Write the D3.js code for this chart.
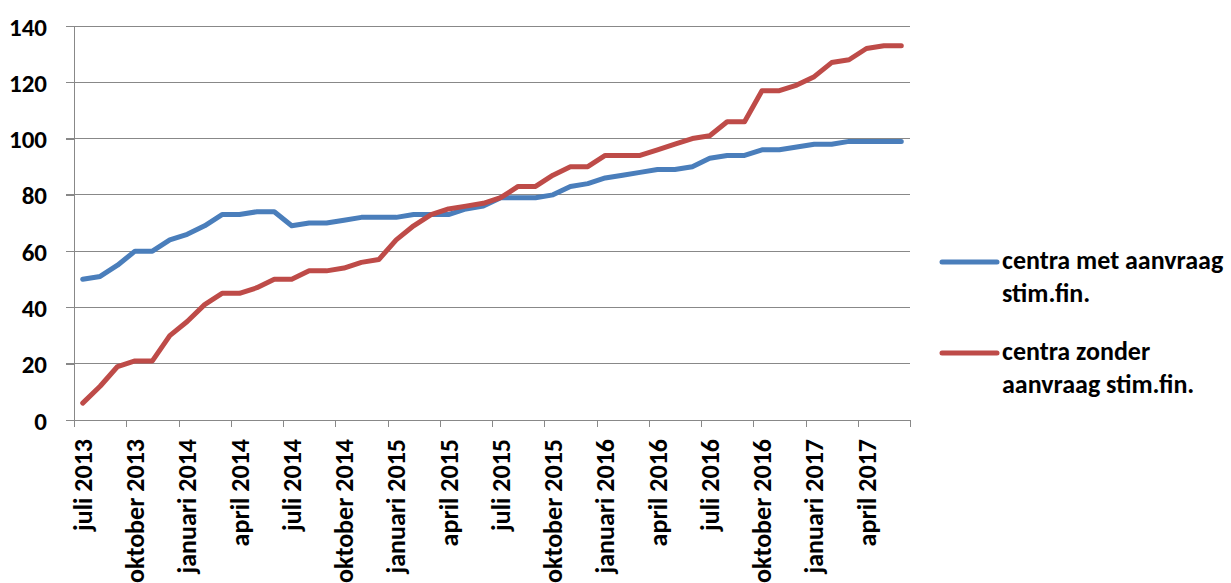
<!DOCTYPE html>
<html>
<head>
<meta charset="utf-8">
<script src="https://cdn.jsdelivr.net/npm/d3@7"></script>
<style>
    body { margin: 0; background: #fff; }
    svg text { font-family: Carlito, Lato, sans-serif; font-weight: bold; fill: #000; }
    .grid line { stroke: #888; stroke-width: 1; shape-rendering: crispEdges; }
    .axis path, .axis line { stroke: #888; shape-rendering: crispEdges; }
    .series { fill: none; stroke-width: 5; stroke-linejoin: round; stroke-linecap: round; }
</style>
</head>
<body>
<svg id="svg" width="1231" height="583"></svg>
<script>

var months = ['juli', 'augustus', 'september', 'oktober', 'november', 'december',
    'januari', 'februari', 'maart', 'april', 'mei', 'juni'];

// juli 2013 .. juni 2017, one per month
var categories = d3.range(48).map(function (i) {
    return months[i % 12] + ' ' + (2013 + Math.floor((i + 6) / 12));
});

var metAanvraag = [50, 51, 55, 60, 60, 64, 66, 69, 73, 73, 74, 74, 69, 70, 70, 71,
    72, 72, 72, 73, 73, 73, 75, 76, 79, 79, 79, 80, 83, 84, 86, 87,
    88, 89, 89, 90, 93, 94, 94, 96, 96, 97, 98, 98, 99, 99, 99, 99];

var zonderAanvraag = [6, 12, 19, 21, 21, 30, 35, 41, 45, 45, 47, 50, 50, 53, 53, 54,
    56, 57, 64, 69, 73, 75, 76, 77, 79, 83, 83, 87, 90, 90, 94, 94,
    94, 96, 98, 100, 101, 106, 106, 117, 117, 119, 122, 127, 128, 132, 133, 133];

var yTicks = [0, 20, 40, 60, 80, 100, 120, 140];

var seriesNames = [['centra met aanvraag', 'stim.fin.'], ['centra zonder', 'aanvraag stim.fin.']];
var seriesColors = ['#4A7EBB', '#BE4B48'];

var plot = {left: 74, right: 910, top: 26, bottom: 420},
    fontSize = 26;

var $svg = d3.select('#svg');

var x = d3.scaleLinear()
    .domain([0, categories.length])
    .range([plot.left, plot.right]);

var y = d3.scaleLinear()
    .domain([0, 140])
    .range([plot.bottom, plot.top]);

// horizontal gridlines
$svg.append('g')
    .attr('class', 'grid')
    .selectAll('line')
    .data(yTicks.slice(1))
    .enter()
    .append('line')
    .attr('x1', plot.left - 8)
    .attr('x2', plot.right)
    .attr('y1', function (d) { return y(d); })
    .attr('y2', function (d) { return y(d); });

// y axis
var $yAxis = $svg.append('g')
    .attr('class', 'axis')
    .attr('transform', 'translate(' + plot.left + ',0)')
    .call(d3.axisLeft(y).tickValues(yTicks).tickSize(8).tickSizeOuter(0).tickPadding(19));

$yAxis.selectAll('text')
    .style('font-size', '25px')
    .attr('dy', '0.36em');

// x axis, ticks between every third category
var $xAxis = $svg.append('g')
    .attr('class', 'axis')
    .attr('transform', 'translate(0,' + plot.bottom + ')')
    .call(d3.axisBottom(x)
        .tickValues(d3.range(0, categories.length + 1, 3))
        .tickFormat('')
        .tickSize(7)
        .tickSizeOuter(0));

$xAxis.select('.domain').attr('d', 'M' + plot.left + ',0.5H' + plot.right);

$svg.append('g')
    .selectAll('text')
    .data(categories.filter(function (d, i) { return i % 3 === 0; }))
    .enter()
    .append('text')
    .attr('text-anchor', 'end')
    .attr('dy', '0.35em')
    .style('font-size', fontSize + 'px')
    .attr('transform', function (d, i) {
        return 'translate(' + x(i * 3 + 0.5) + ',' + (plot.bottom + 19) + ') rotate(-90)';
    })
    .text(function (d) { return d; });

// series lines
var line = d3.line()
    .x(function (d, i) { return x(i + 0.5); })
    .y(function (d) { return y(d); });

[metAanvraag, zonderAanvraag].forEach(function (values, k) {
    $svg.append('path')
        .attr('class', 'series')
        .attr('stroke', seriesColors[k])
        .attr('d', line(values));
});

// legend
var legendY = [262, 353];

seriesNames.forEach(function (lines, k) {
    var $item = $svg.append('g')
        .attr('transform', 'translate(942,' + legendY[k] + ')');

    $item.append('line')
        .attr('x1', 0)
        .attr('x2', 55)
        .attr('stroke', seriesColors[k])
        .attr('stroke-width', 5)
        .attr('stroke-linecap', 'round');

    $item.append('text')
        .style('font-size', fontSize + 'px')
        .selectAll('tspan')
        .data(lines)
        .enter()
        .append('tspan')
        .attr('x', 60)
        .attr('y', function (d, i) { return 7 + i * 33; })
        .text(function (d) { return d; });
});

</script>
</body>
</html>
